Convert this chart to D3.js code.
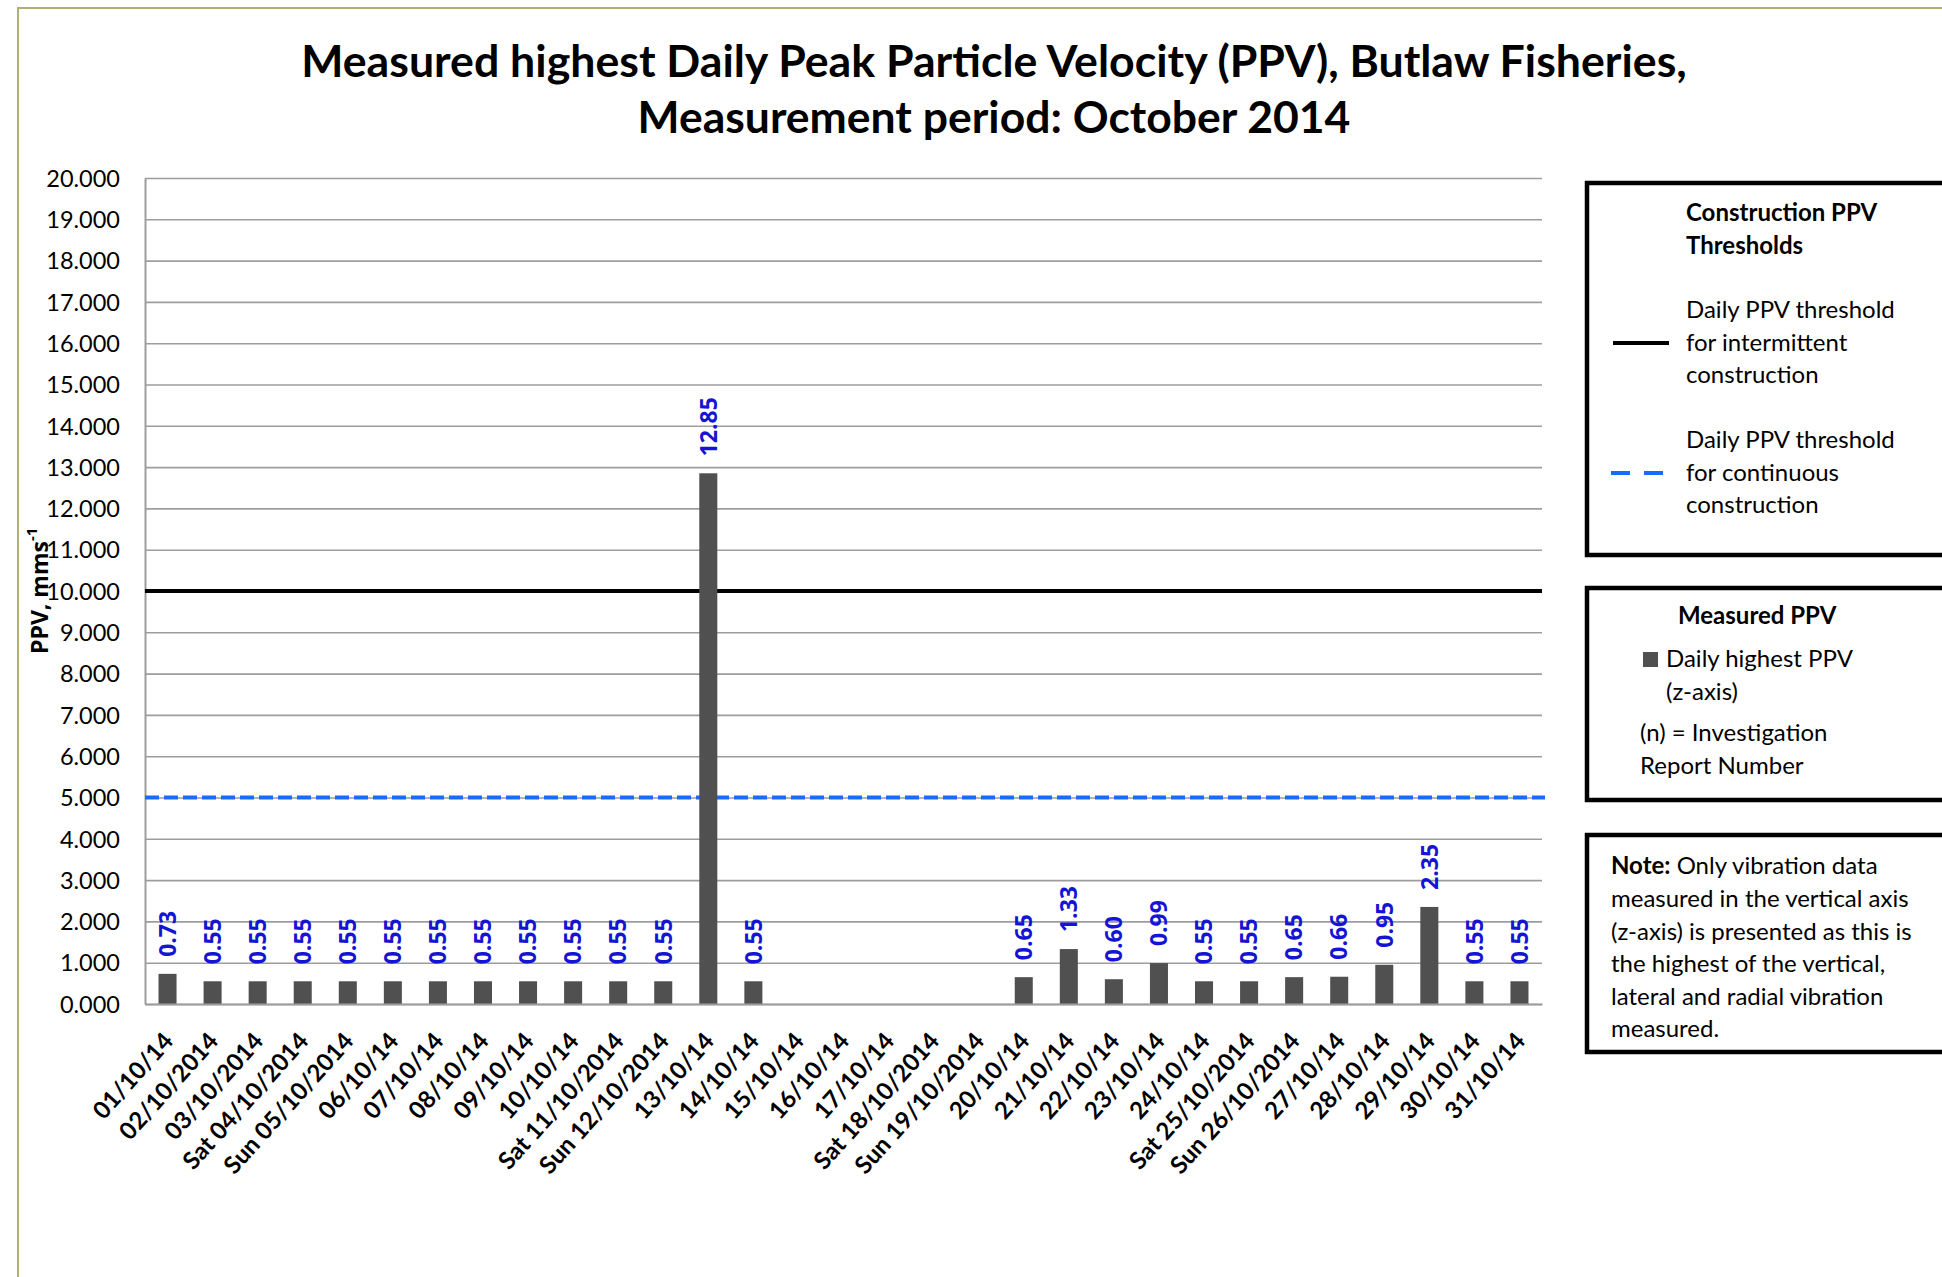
<!DOCTYPE html>
<html>
<head>
<meta charset="utf-8">
<script src="https://cdn.jsdelivr.net/npm/d3@7"></script>
<style>
  html, body { margin: 0; padding: 0; background: #fff; }
  svg { display: block; font-family: Lato, "Open Sans", sans-serif; }
</style>
</head>
<body>
<svg width="1942" height="1277"></svg>
<script>
// data
var categories = [
    '01/10/14', '02/10/2014', '03/10/2014', 'Sat 04/10/2014', 'Sun 05/10/2014',
    '06/10/14', '07/10/14', '08/10/14', '09/10/14', '10/10/14',
    'Sat 11/10/2014', 'Sun 12/10/2014', '13/10/14', '14/10/14', '15/10/14',
    '16/10/14', '17/10/14', 'Sat 18/10/2014', 'Sun 19/10/2014', '20/10/14',
    '21/10/14', '22/10/14', '23/10/14', '24/10/14', 'Sat 25/10/2014',
    'Sun 26/10/2014', '27/10/14', '28/10/14', '29/10/14', '30/10/14', '31/10/14'
];
var ppvValues = [
    0.73, 0.55, 0.55, 0.55, 0.55, 0.55, 0.55, 0.55, 0.55, 0.55,
    0.55, 0.55, 12.85, 0.55, null, null, null, null, null, 0.65,
    1.33, 0.60, 0.99, 0.55, 0.55, 0.65, 0.66, 0.95, 2.35, 0.55, 0.55
];
var yTickValues = [0, 1, 2, 3, 4, 5, 6, 7, 8, 9, 10, 11, 12, 13, 14, 15, 16, 17, 18, 19, 20];
var intermittentThreshold = 10;
var continuousThreshold = 5;

var titleLines = [
    'Measured highest Daily Peak Particle Velocity (PPV), Butlaw Fisheries,',
    'Measurement period: October 2014'
];
var thresholdTitle = ['Construction PPV', 'Thresholds'];
var intermittentLabel = ['Daily PPV threshold', 'for intermittent', 'construction'];
var continuousLabel = ['Daily PPV threshold', 'for continuous', 'construction'];
var measuredTitle = 'Measured PPV';
var measuredLabel = ['Daily highest PPV', '(z-axis)'];
var reportLabel = ['(n) = Investigation', 'Report Number'];
var noteLines = [
    'measured in the vertical axis',
    '(z-axis) is presented as this is',
    'the highest of the vertical,',
    'lateral and radial vibration',
    'measured.'
];

var svg = d3.select('svg');
var width = 1942;
var height = 1277;

var plotLeft = 145, plotRight = 1542, plotTop = 178, plotBottom = 1004;
var barColor = '#505050';
var gridColor = '#9d9d9d';
var labelBlue = '#1414d4';
var dashBlue = '#1a6aff';
var boldFont = '"Open Sans", Lato, sans-serif';

svg.append('rect').attr('width', width).attr('height', height).attr('fill', '#fff');

// outer chart border
svg.append('rect')
    .attr('x', 18).attr('y', 8)
    .attr('width', 2000).attr('height', 1400)
    .attr('fill', 'none')
    .attr('stroke', '#b2b070')
    .attr('stroke-width', 2);

// title
var titleTargets = [1386, 713];
titleLines.forEach(function (line, i) {
    var t = svg.append('text')
        .attr('x', 994)
        .attr('y', i === 0 ? 77 : 133)
        .attr('text-anchor', 'middle')
        .attr('font-weight', 'bold')
        .attr('font-size', 38)
        .attr('fill', '#000')
        .text(line);
    var len = t.node().getComputedTextLength();
    t.attr('font-size', 38 * titleTargets[i] / len);
});

var x = d3.scaleBand()
    .domain(categories)
    .range([plotLeft, plotRight])
    .paddingInner(0.6)
    .paddingOuter(0.3);

var y = d3.scaleLinear()
    .domain([0, 20])
    .range([plotBottom, plotTop]);

// y axis with gridlines
var yAxis = svg.append('g')
    .attr('transform', 'translate(' + plotLeft + ',0)')
    .call(d3.axisLeft(y)
        .tickValues(yTickValues)
        .tickFormat(d3.format('.3f'))
        .tickSizeInner(-(plotRight - plotLeft))
        .tickSizeOuter(0)
        .tickPadding(25));
yAxis.select('.domain').attr('stroke', gridColor).attr('stroke-width', 2);
yAxis.selectAll('.tick line').attr('stroke', gridColor).attr('stroke-width', 1.6);
yAxis.selectAll('.tick text')
    .attr('font-family', 'Lato, "Open Sans", sans-serif')
    .attr('font-size', 23.5)
    .attr('fill', '#000')
    .attr('dy', '0.35em');

// y axis title
var yTitle = svg.append('text')
    .attr('transform', 'translate(48,654) rotate(-90)')
    .attr('font-family', boldFont)
    .attr('font-weight', 'bold')
    .attr('font-size', 23)
    .attr('fill', '#000');
yTitle.append('tspan').text('PPV, mms');
yTitle.append('tspan').attr('font-size', 15).attr('dy', -11).text('-1');

// threshold lines
svg.append('line')
    .attr('x1', plotLeft).attr('x2', plotRight)
    .attr('y1', y(intermittentThreshold)).attr('y2', y(intermittentThreshold))
    .attr('stroke', '#000').attr('stroke-width', 4);

svg.append('line')
    .attr('x1', plotLeft).attr('x2', plotRight + 3)
    .attr('y1', y(continuousThreshold)).attr('y2', y(continuousThreshold))
    .attr('stroke', dashBlue).attr('stroke-width', 4)
    .attr('stroke-dasharray', '14 5');

// bars
var barData = categories.map(function (c, i) { return { cat: c, value: ppvValues[i] }; })
    .filter(function (d) { return d.value !== null; });

svg.selectAll('rect.bar')
    .data(barData)
    .enter()
    .append('rect')
    .attr('class', 'bar')
    .attr('x', function (d) { return x(d.cat); })
    .attr('width', x.bandwidth())
    .attr('y', function (d) { return y(d.value); })
    .attr('height', function (d) { return plotBottom - y(d.value); })
    .attr('fill', barColor);

// data labels
svg.selectAll('text.value')
    .data(barData)
    .enter()
    .append('text')
    .attr('class', 'value')
    .attr('transform', function (d) {
        return 'translate(' + (x(d.cat) + x.bandwidth() / 2) + ',' + (y(d.value) - 17) + ') rotate(-90)';
    })
    .attr('dy', '0.36em')
    .attr('font-family', boldFont)
    .attr('font-weight', 'bold')
    .attr('font-size', 23)
    .attr('fill', labelBlue)
    .text(function (d) { return d3.format('.2f')(d.value); });

// x axis
var xAxis = svg.append('g')
    .attr('transform', 'translate(0,' + plotBottom + ')')
    .call(d3.axisBottom(x).tickSize(0).tickSizeOuter(0));
xAxis.select('.domain').attr('stroke', gridColor).attr('stroke-width', 2);
xAxis.selectAll('.tick text')
    .attr('font-family', 'Lato, "Open Sans", sans-serif')
    .attr('font-size', 24)
    .attr('font-weight', 'bold')
    .attr('fill', '#000')
    .attr('x', 0).attr('y', 0).attr('dy', 0)
    .attr('text-anchor', 'end')
    .attr('transform', 'translate(7,38) rotate(-48)');

// legend boxes
function box(y0, y1) {
    svg.append('rect')
        .attr('x', 1587).attr('y', y0)
        .attr('width', 420).attr('height', y1 - y0)
        .attr('fill', 'none')
        .attr('stroke', '#000')
        .attr('stroke-width', 4.5);
}

function lines(arr, x0, y0, step, bold) {
    arr.forEach(function (s, i) {
        svg.append('text')
            .attr('x', x0).attr('y', y0 + i * step)
            .attr('font-size', 24)
            .attr('font-weight', bold ? 'bold' : 'normal')
            .attr('fill', '#000')
            .text(s);
    });
}

box(183, 555);
lines(thresholdTitle, 1686, 221, 32.5, true);
lines(intermittentLabel, 1686, 318, 32.5, false);
lines(continuousLabel, 1686, 448, 32.5, false);
svg.append('line')
    .attr('x1', 1613).attr('x2', 1669).attr('y1', 343).attr('y2', 343)
    .attr('stroke', '#000').attr('stroke-width', 4);
svg.append('line')
    .attr('x1', 1611).attr('x2', 1664).attr('y1', 473).attr('y2', 473)
    .attr('stroke', dashBlue).attr('stroke-width', 4)
    .attr('stroke-dasharray', '19 14');

box(588, 800);
lines([measuredTitle], 1678, 624, 32.5, true);
svg.append('rect')
    .attr('x', 1643).attr('y', 652).attr('width', 15).attr('height', 15)
    .attr('fill', barColor);
lines(measuredLabel, 1666, 667, 32.5, false);
lines(reportLabel, 1640, 741, 32.5, false);

box(835, 1052);
var note = svg.append('text')
    .attr('x', 1611).attr('y', 874)
    .attr('font-size', 24)
    .attr('fill', '#000');
note.append('tspan').attr('font-weight', 'bold').text('Note:');
note.append('tspan').text(' Only vibration data');
lines(noteLines, 1611, 907, 32.6, false);
</script>
</body>
</html>
